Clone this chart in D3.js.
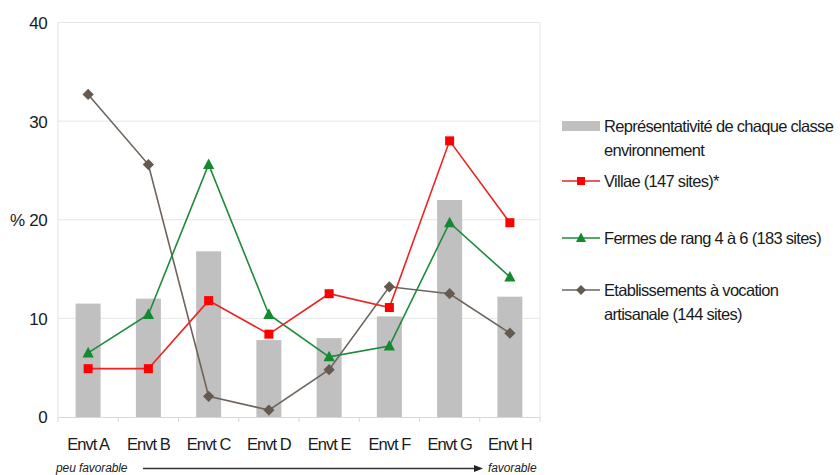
<!DOCTYPE html>
<html><head><meta charset="utf-8">
<script src="https://cdn.jsdelivr.net/npm/d3@7/dist/d3.min.js"></script>
<style>body{margin:0;background:#fff}svg{display:block}text{font-family:"Liberation Sans",Arial,sans-serif}</style>
</head><body>
<svg id="c" width="840" height="475"></svg>
<script>
const categories = ["Envt A","Envt B","Envt C","Envt D","Envt E","Envt F","Envt G","Envt H"];
const representativite = [11.5, 12.0, 16.8, 7.8, 8.0, 10.2, 22.0, 12.2];
const villae = [4.9, 4.9, 11.8, 8.4, 12.5, 11.1, 28.0, 19.7];
const fermes = [6.5, 10.4, 25.6, 10.4, 6.1, 7.2, 19.7, 14.2];
const etablissements = [32.7, 25.6, 2.1, 0.7, 4.8, 13.2, 12.5, 8.5];
const yTicks = [0, 10, 20, 30, 40];

const svg = d3.select("#c");
const L = 58, R = 540, T = 22.5, B = 417;
const x = d3.scaleBand().domain(categories).range([L, R]).paddingInner(0).paddingOuter(0);
const y = d3.scaleLinear().domain([0, 40]).range([B, T]);

// grid
svg.append("g").selectAll("line").data(yTicks.slice(1)).join("line")
  .attr("x1", L).attr("x2", R).attr("y1", d => y(d)).attr("y2", d => y(d))
  .attr("stroke", "#e6e6e6").attr("stroke-width", 1);
// plot border (left/right)
svg.append("line").attr("x1", L).attr("x2", L).attr("y1", T).attr("y2", B).attr("stroke", "#e0e0e0");
svg.append("line").attr("x1", R).attr("x2", R).attr("y1", T).attr("y2", B).attr("stroke", "#e6e6e6");

// bars
const bw = 25;
svg.append("g").selectAll("rect").data(representativite).join("rect")
  .attr("x", (d, i) => x(categories[i]) + x.bandwidth() / 2 - bw / 2)
  .attr("width", bw)
  .attr("y", d => y(d)).attr("height", d => B - y(d))
  .attr("fill", "#c0c0c0");

// x axis
const xAxis = d3.axisBottom(x).tickSize(0).tickPadding(0);
const gx = svg.append("g").attr("transform", `translate(0,${B})`).call(xAxis);
gx.select(".domain").attr("stroke", "#d8d8d8");
gx.selectAll("text").attr("dy", null).attr("y", 33).attr("font-size", 16.5).attr("fill", "#1a1a1a")
  .attr("letter-spacing", "-1px");
// tick marks between categories
svg.append("g").selectAll("line").data(d3.range(categories.length + 1)).join("line")
  .attr("x1", i => L + i * x.bandwidth()).attr("x2", i => L + i * x.bandwidth())
  .attr("y1", B).attr("y2", B + 5).attr("stroke", "#d8d8d8");

// y axis
const yAxis = d3.axisLeft(y).tickValues(yTicks).tickSize(0).tickPadding(11);
const gy = svg.append("g").attr("transform", `translate(${L},0)`).call(yAxis);
gy.select(".domain").remove();
gy.selectAll("text").attr("font-size", 17).attr("fill", "#1a1a1a").attr("dy", "0.35em").attr("letter-spacing", "-0.6px");
svg.append("text").attr("x", 10).attr("y", y(20)).attr("dy", "0.35em").attr("font-size", 17).attr("fill", "#1a1a1a").text("%");

// lines
const cx = i => x(categories[i]) + x.bandwidth() / 2;
const line = d3.line().x((d, i) => cx(i)).y(d => y(d));
const series = [
  {name: "etab", data: etablissements, color: "#6e645c", marker: "diamond"},
  {name: "fermes", data: fermes, color: "#1e8a3c", marker: "triangle"},
  {name: "villae", data: villae, color: "#ee2222", marker: "square"}
];
const markerColor = {etab: "#655a50", fermes: "#138a2e", villae: "#ff0000"};
function drawMarker(g, type, color, px, py, s) {
  if (type === "square") g.append("rect").attr("x", px - s).attr("y", py - s).attr("width", 2 * s).attr("height", 2 * s).attr("fill", color);
  else if (type === "triangle") g.append("path").attr("d", `M${px},${py - s * 1.35}L${px + s * 1.25},${py + s}L${px - s * 1.25},${py + s}Z`).attr("fill", color);
  else g.append("path").attr("d", `M${px},${py - s * 1.25}L${px + s * 1.25},${py}L${px},${py + s * 1.25}L${px - s * 1.25},${py}Z`).attr("fill", color);
}
series.forEach(s => {
  svg.append("path").datum(s.data).attr("d", line).attr("fill", "none").attr("stroke", s.color).attr("stroke-width", 1.6);
});
series.forEach(s => {
  const g = svg.append("g");
  s.data.forEach((d, i) => drawMarker(g, s.marker, markerColor[s.name], cx(i), y(d), 4.5));
});

// legend
const lg = svg.append("g");
const fs = 16.5;
const ls = "-0.7px";
lg.append("rect").attr("x", 562).attr("y", 121).attr("width", 38).attr("height", 10).attr("fill", "#c0c0c0");
lg.append("text").attr("x", 604).attr("y", 132).attr("font-size", fs).attr("fill", "#1a1a1a").attr("letter-spacing", ls).text("Représentativité de chaque classe");
lg.append("text").attr("x", 604).attr("y", 156).attr("font-size", fs).attr("fill", "#1a1a1a").attr("letter-spacing", ls).text("environnement");
const items = [
  {label: ["Villae (147 sites)*"], y: 181, color: "#ee2222", marker: "square", mc: "#ff0000"},
  {label: ["Fermes de rang 4 à 6 (183 sites)"], y: 238, color: "#1e8a3c", marker: "triangle", mc: "#138a2e"},
  {label: ["Etablissements à vocation", "artisanale (144 sites)"], y: 290, color: "#6e645c", marker: "diamond", mc: "#655a50"}
];
items.forEach(it => {
  lg.append("line").attr("x1", 562).attr("x2", 600).attr("y1", it.y).attr("y2", it.y).attr("stroke", it.color).attr("stroke-width", 1.6);
  drawMarker(lg, it.marker, it.mc, 581, it.y, 4);
  it.label.forEach((t, j) => lg.append("text").attr("x", 604).attr("y", it.y + 6 + j * 24).attr("font-size", fs).attr("fill", "#1a1a1a").attr("letter-spacing", ls).text(t));
});

// bottom annotation
svg.append("text").attr("x", 56).attr("y", 471.5).attr("font-size", 12).attr("font-style", "italic").attr("fill", "#222").attr("letter-spacing", "-0.1px").text("peu favorable");
svg.append("line").attr("x1", 143).attr("x2", 475).attr("y1", 468.5).attr("y2", 468.5).attr("stroke", "#333").attr("stroke-width", 1.3);
svg.append("path").attr("d", "M483,468.5L474,465L474,472Z").attr("fill", "#222");
svg.append("text").attr("x", 488).attr("y", 471.5).attr("font-size", 12).attr("font-style", "italic").attr("fill", "#222").attr("letter-spacing", "-0.1px").text("favorable");
</script>
</body></html>
